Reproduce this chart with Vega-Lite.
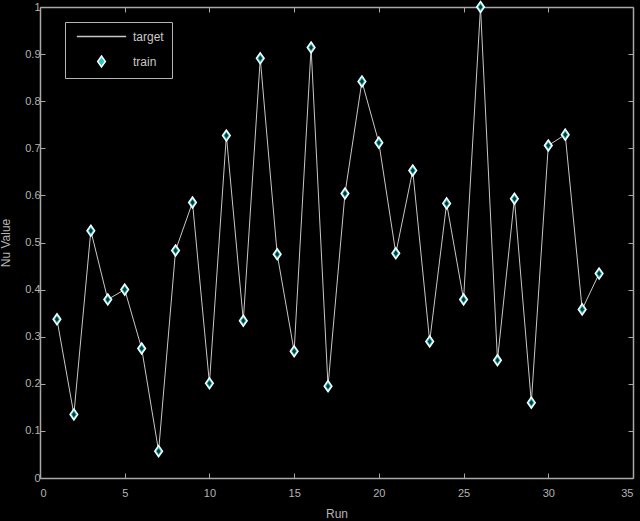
{
  "$schema": "https://vega.github.io/schema/vega-lite/v6.json",
  "width": 593,
  "height": 471,
  "autosize": "none",
  "padding": {"left": 40, "top": 7, "right": 7, "bottom": 43},
  "background": "#000000",
  "data": {
    "values": [
      {"run": 1, "nu": 0.337, "series": "train"},
      {"run": 2, "nu": 0.135, "series": "train"},
      {"run": 3, "nu": 0.525, "series": "train"},
      {"run": 4, "nu": 0.379, "series": "train"},
      {"run": 5, "nu": 0.4, "series": "train"},
      {"run": 6, "nu": 0.275, "series": "train"},
      {"run": 7, "nu": 0.057, "series": "train"},
      {"run": 8, "nu": 0.483, "series": "train"},
      {"run": 9, "nu": 0.585, "series": "train"},
      {"run": 10, "nu": 0.201, "series": "train"},
      {"run": 11, "nu": 0.727, "series": "train"},
      {"run": 12, "nu": 0.334, "series": "train"},
      {"run": 13, "nu": 0.891, "series": "train"},
      {"run": 14, "nu": 0.475, "series": "train"},
      {"run": 15, "nu": 0.269, "series": "train"},
      {"run": 16, "nu": 0.914, "series": "train"},
      {"run": 17, "nu": 0.195, "series": "train"},
      {"run": 18, "nu": 0.604, "series": "train"},
      {"run": 19, "nu": 0.842, "series": "train"},
      {"run": 20, "nu": 0.712, "series": "train"},
      {"run": 21, "nu": 0.477, "series": "train"},
      {"run": 22, "nu": 0.653, "series": "train"},
      {"run": 23, "nu": 0.29, "series": "train"},
      {"run": 24, "nu": 0.583, "series": "train"},
      {"run": 25, "nu": 0.379, "series": "train"},
      {"run": 26, "nu": 1.0, "series": "train"},
      {"run": 27, "nu": 0.25, "series": "train"},
      {"run": 28, "nu": 0.593, "series": "train"},
      {"run": 29, "nu": 0.16, "series": "train"},
      {"run": 30, "nu": 0.706, "series": "train"},
      {"run": 31, "nu": 0.729, "series": "train"},
      {"run": 32, "nu": 0.358, "series": "train"},
      {"run": 33, "nu": 0.434, "series": "train"}
    ]
  },
  "layer": [
    {
      "mark": {"type": "line", "color": "#c8c8c8", "strokeWidth": 1},
      "encoding": {
        "x": {
          "field": "run", "type": "quantitative",
          "scale": {"domain": [0, 35], "nice": false},
          "axis": {"orient": "bottom", "values": [0, 5, 10, 15, 20, 25, 30, 35], "format": "~g", "title": "Run"}
        },
        "y": {
          "field": "nu", "type": "quantitative",
          "scale": {"domain": [0, 1], "nice": false},
          "axis": {"orient": "left", "values": [0, 0.1, 0.2, 0.3, 0.4, 0.5, 0.6, 0.7, 0.8, 0.9, 1], "format": "~g", "title": "Nu Value"}
        }
      }
    },
    {
      "mark": {"type": "point", "filled": false, "strokeWidth": 1.5, "size": 120, "fillOpacity": 1, "opacity": 1},
      "encoding": {
        "x": {"field": "run", "type": "quantitative", "axis": null},
        "y": {"field": "nu", "type": "quantitative", "axis": null},
        "shape": {
          "field": "series", "type": "nominal",
          "scale": {"domain": ["target", "train"], "range": ["M-4.5,0L4.5,0", "M0,-1L0.7,0L0,1L-0.7,0Z"]},
          "legend": {"title": null}
        },
        "fill": {
          "field": "series", "type": "nominal",
          "scale": {"domain": ["target", "train"], "range": ["#c8c8c8", "#22c8c8"]},
          "legend": {"title": null}
        },
        "stroke": {
          "field": "series", "type": "nominal",
          "scale": {"domain": ["target", "train"], "range": ["#c8c8c8", "#ffffff"]},
          "legend": {"title": null}
        }
      }
    },
    {
      "mark": {"type": "point", "filled": true, "shape": "M0,-1L0.7,0L0,1L-0.7,0Z", "size": 30, "color": "#063434", "opacity": 1},
      "encoding": {
        "x": {"field": "run", "type": "quantitative", "axis": null},
        "y": {"field": "nu", "type": "quantitative", "axis": null}
      }
    },
    {
      "mark": {"type": "point", "opacity": 0},
      "encoding": {
        "x": {
          "field": "run", "type": "quantitative",
          "axis": {"orient": "top", "values": [0, 5, 10, 15, 20, 25, 30, 35], "labels": false, "title": null}
        },
        "y": {
          "field": "nu", "type": "quantitative",
          "axis": {"orient": "right", "values": [0, 0.1, 0.2, 0.3, 0.4, 0.5, 0.6, 0.7, 0.8, 0.9, 1], "labels": false, "title": null}
        }
      }
    }
  ],
  "resolve": {"axis": {"x": "independent", "y": "independent"}},
  "config": {
    "view": {"stroke": null},
    "font": "Liberation Sans",
    "axis": {
      "grid": false,
      "domainColor": "#a8a8a8",
      "domainWidth": 1.5,
      "tickColor": "#a8a8a8",
      "tickSize": -5,
      "labelColor": "#b4b4b4",
      "labelFontSize": 11,
      "labelFont": "Liberation Sans",
      "labelFontWeight": "normal",
      "titleColor": "#b4b4b4",
      "titleFontSize": 12,
      "titleFontWeight": "normal",
      "titleFont": "Liberation Sans"
    },
    "axisBottom": {"labelPadding": 14, "titlePadding": 10},
    "axisLeft": {"labelPadding": 5, "titlePadding": 12},
    "legend": {
      "orient": "none",
      "legendX": 25,
      "legendY": 15,
      "strokeColor": "#b4b4b4",
      "fillColor": "#000000",
      "padding": 8,
      "rowPadding": 10,
      "labelColor": "#c8c8c8",
      "labelFontSize": 12,
      "labelFont": "Liberation Sans",
      "labelOffset": 25,
      "symbolOffset": 22,
      "symbolSize": 120,
      "symbolStrokeWidth": 1.5
    }
  }
}
